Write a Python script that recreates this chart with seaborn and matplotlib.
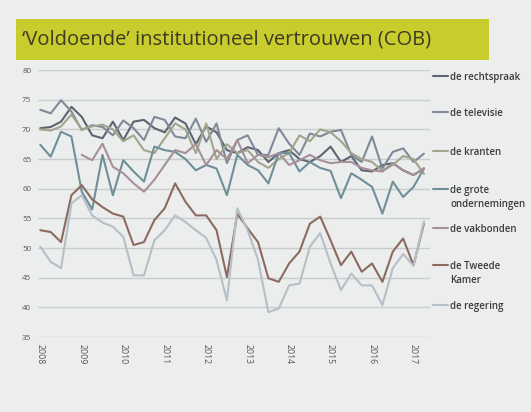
"""
Voldoende institutioneel vertrouwen (COB) - line chart
"""

import matplotlib
matplotlib.use("Agg")
import matplotlib.pyplot as plt
from matplotlib.patches import Rectangle
import seaborn as sns
import pandas as pd

# quarterly measurements 2008Q1 - 2017Q2
quarters = pd.period_range("2008Q1", "2017Q2", freq="Q")

rechtspraak = [70.2, 70.4, 71.3, 73.8, 72.1, 69.0, 68.5, 71.3, 68.2, 71.3,
               71.6, 70.2, 69.5, 72.0, 71.0, 67.5, 70.5, 69.5, 66.5, 66.0,
               67.0, 66.5, 64.5, 66.0, 66.5, 65.0, 64.5, 65.5, 67.1, 64.5,
               65.5, 63.1, 62.9, 64.0, 64.3, 63.1, 62.3, 63.4]
televisie = [73.3, 72.7, 74.9, 73.0, 69.9, 70.7, 70.4, 69.0, 71.5, 70.2,
             68.2, 72.1, 71.6, 68.8, 68.5, 71.8, 67.9, 71.0, 64.3, 68.2,
             69.0, 65.7, 65.7, 70.2, 67.6, 65.7, 69.3, 68.8, 69.6, 69.9,
             65.7, 64.5, 68.8, 63.4, 66.2, 66.8, 64.5, 65.9]
kranten = [70.0, 69.8, 70.5, 72.5, 70.0, 70.5, 70.8, 70.0, 68.0, 69.0,
           66.5, 66.0, 68.5, 71.0, 70.0, 66.0, 71.0, 65.0, 67.5, 66.0,
           66.5, 64.5, 63.5, 65.0, 66.0, 69.0, 68.0, 70.0, 69.5, 68.0,
           66.0, 65.0, 64.5, 63.0, 64.0, 65.5, 65.0, 62.5]
grote_ondernemingen = [67.4, 65.4, 69.6, 68.8, 59.5, 56.5, 65.7, 58.9, 64.8, 62.9,
                       61.2, 67.1, 66.5, 66.2, 65.0, 63.1, 64.0, 63.4, 58.9, 65.7,
                       64.0, 63.1, 60.9, 66.0, 66.0, 62.9, 64.5, 63.5, 63.0, 58.4,
                       62.6, 61.5, 60.3, 55.8, 61.2, 58.6, 60.3, 63.4]
vakbonden = [None, None, None, None, 65.7, 64.8, 67.6, 63.7, 62.6, 60.9,
             59.5, 61.5, 64.0, 66.5, 66.0, 67.5, 64.0, 66.5, 65.0, 68.2,
             64.3, 65.7, 65.3, 66.0, 64.0, 64.8, 65.7, 64.8, 64.3, 64.5,
             64.5, 63.5, 63.1, 62.9, 64.3, 63.1, 62.3, 63.4]
tweede_kamer = [53.0, 52.7, 51.0, 58.9, 60.6, 58.2, 56.9, 55.8, 55.3, 50.5,
                51.0, 54.7, 56.7, 60.9, 57.8, 55.5, 55.5, 53.0, 45.1, 55.8,
                53.3, 51.0, 44.9, 44.3, 47.4, 49.4, 54.1, 55.3, 51.3, 47.1,
                49.4, 46.0, 47.4, 44.3, 49.4, 51.6, 47.1, 54.1]
regering = [50.2, 47.7, 46.6, 57.5, 58.9, 55.5, 54.3, 53.6, 51.9, 45.4,
            45.4, 51.3, 53.0, 55.5, 54.4, 53.0, 51.7, 48.0, 41.2, 56.7,
            53.0, 48.0, 39.2, 39.8, 43.7, 44.0, 50.2, 52.5, 47.4, 42.9,
            45.7, 43.7, 43.7, 40.4, 46.6, 49.0, 47.0, 54.5]

labels = ["de rechtspraak", "de televisie", "de kranten", "de grote\nondernemingen",
          "de vakbonden", "de Tweede\nKamer", "de regering"]
colors = ["#5b6470", "#7e8a97", "#a2a58c", "#6f8f98", "#a68f9b", "#8c6a60", "#b6bec8"]
year_ticks = list(range(2008, 2018))
y_ticks = [35, 40, 45, 50, 55, 60, 65, 70, 75, 80]

series = [rechtspraak, televisie, kranten, grote_ondernemingen,
          vakbonden, tweede_kamer, regering]

t = quarters.year + (quarters.quarter - 1) / 4
wide = pd.DataFrame({lab: vals for lab, vals in zip(labels, series)}, index=t)
wide.index.name = "t"
long = wide.reset_index().melt(id_vars="t", var_name="reeks", value_name="waarde").dropna()

sns.set_theme(style="white")
plt.rcParams["font.family"] = ["Open Sans", "DejaVu Sans"]

bg = "#eceeee"
fig = plt.figure(figsize=(5.31, 4.12), dpi=100, facecolor=bg)
ax = fig.add_axes([0.072, 0.182, 0.738, 0.648], facecolor=bg)

# title banner
fig.patches.append(Rectangle((0.03, 0.855), 0.89, 0.099, transform=fig.transFigure,
                             facecolor="#c8cc2c", edgecolor="none", zorder=0))
fig.text(0.042, 0.903, "\u2018Voldoende\u2019 institutioneel vertrouwen (COB)",
         fontsize=14.5, color="#3b3b24", va="center", ha="left")

sns.lineplot(data=long, x="t", y="waarde", hue="reeks", hue_order=labels,
             palette=colors, estimator=None, legend=False, linewidth=1.5, ax=ax)

ax.set_xlim(2007.95, 2017.4)
ax.set_ylim(35, 80)
ax.set_yticks(y_ticks)
ax.set_xticks(year_ticks)
ax.set_xticklabels([str(y) for y in year_ticks], rotation=270, fontsize=6.3, color="#555555")
ax.set_yticklabels([str(v) for v in y_ticks], fontsize=5.8, color="#555555")
ax.tick_params(axis="both", length=0, pad=5)
ax.set_xlabel("")
ax.set_ylabel("")
ax.yaxis.grid(True, color="#c9cdcd", linewidth=1)
ax.xaxis.grid(False)
for side in ax.spines:
    ax.spines[side].set_visible(False)

# legend on the right, entries spaced like the slide
legend_y = [0.978, 0.843, 0.697, 0.554, 0.408, 0.270, 0.120]
for lab, col, yy in zip(labels, colors, legend_y):
    ax.plot([1.008, 1.045], [yy, yy], transform=ax.transAxes, color=col,
            linewidth=1.5, clip_on=False)
    ax.text(1.052, yy + 0.014, lab, transform=ax.transAxes, fontsize=7,
            color="#3c3c3c", fontweight="semibold", va="top", ha="left",
            linespacing=1.3)

plt.savefig("out.png", dpi=100, facecolor=bg)
plt.close()
